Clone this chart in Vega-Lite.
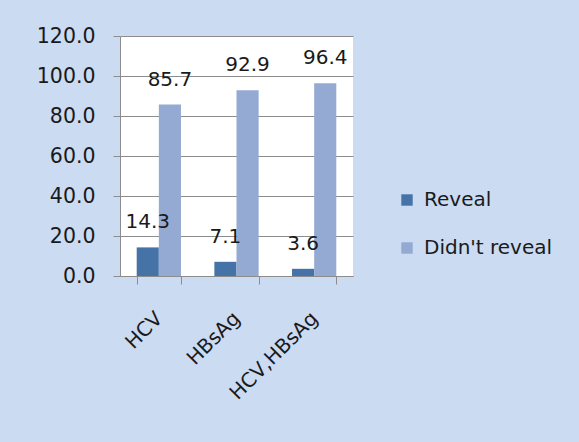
{
  "$schema": "https://vega.github.io/schema/vega-lite/v6.json",
  "autosize": "none",
  "width": 233,
  "height": 240,
  "padding": {"left": 120, "top": 36, "right": 226, "bottom": 166},
  "background": "#cbdbf2",
  "config": {
    "view": {"fill": "white", "stroke": null},
    "font": "DejaVu Sans"
  },
  "data": {
    "values": [
      {"test": "HCV", "group": "Reveal", "value": 14.3},
      {"test": "HCV", "group": "Didn't reveal", "value": 85.7},
      {"test": "HBsAg", "group": "Reveal", "value": 7.1},
      {"test": "HBsAg", "group": "Didn't reveal", "value": 92.9},
      {"test": "HCV,HBsAg", "group": "Reveal", "value": 3.6},
      {"test": "HCV,HBsAg", "group": "Didn't reveal", "value": 96.4}
    ]
  },
  "encoding": {
    "x": {
      "field": "test", "type": "nominal", "sort": ["HCV", "HBsAg", "HCV,HBsAg"],
      "scale": {"paddingInner": 0.43, "paddingOuter": 0.215},
      "axis": {
        "title": null, "labelAngle": -45, "labelAlign": "right", "labelBaseline": "middle",
        "labelFontSize": 20, "labelColor": "#1a1a1a", "labelPadding": 31,
        "tickBand": "extent", "tickSize": 8, "tickColor": "#8c8c8c", "domainColor": "#8c8c8c"
      }
    },
    "xOffset": {"field": "group", "type": "nominal", "sort": ["Reveal", "Didn't reveal"]},
    "y": {
      "field": "value", "type": "quantitative",
      "scale": {"domain": [0, 120], "nice": false},
      "axis": {
        "title": null, "values": [0, 20, 40, 60, 80, 100, 120], "format": ".1f",
        "labelFontSize": 20.5, "labelColor": "#1a1a1a", "labelPadding": 18, "tickSize": 7,
        "tickColor": "#8c8c8c", "domainColor": "#8c8c8c", "gridColor": "#8c8c8c"
      }
    }
  },
  "layer": [
    {
      "mark": {"type": "bar"},
      "encoding": {
        "color": {
          "field": "group", "type": "nominal", "sort": ["Reveal", "Didn't reveal"],
          "scale": {"domain": ["Reveal", "Didn't reveal"], "range": ["#4572a7", "#94aad2"]},
          "legend": {
            "title": null, "orient": "none", "legendX": 277, "legendY": 154,
            "symbolType": "square", "symbolSize": 130, "symbolStrokeWidth": 0,
            "labelFontSize": 20, "labelColor": "#1a1a1a", "labelOffset": 7,
            "rowPadding": 28, "labelLimit": 300
          }
        }
      }
    },
    {
      "mark": {"type": "text", "dy": -25, "fontSize": 20, "color": "#1a1a1a"},
      "encoding": {
        "text": {"field": "value", "type": "quantitative", "format": ".1f"}
      }
    }
  ]
}
